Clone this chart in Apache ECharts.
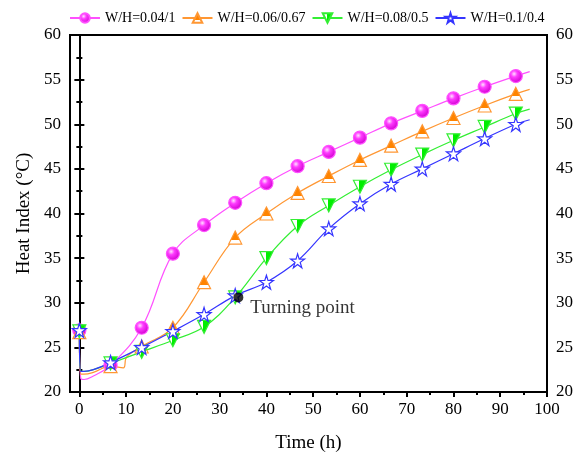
<!DOCTYPE html>
<html>
<head>
<meta charset="utf-8">
<script src="https://cdn.jsdelivr.net/npm/echarts@6/dist/echarts.min.js"></script>
<style>
  * { margin: 0; padding: 0; }
  html, body { background: #fff; }
  #chart { width: 579px; height: 458px; }
</style>
</head>
<body>
<div id="chart"></div>
<script>
// marker times (h)
const markTimes = [0, 6.67, 13.33, 20, 26.67, 33.33, 40, 46.67, 53.33, 60, 66.67, 73.33, 80, 86.67, 93.33];

// values at the markers (°C)
const pinkVals   = [26.9, 23.0, 27.2, 35.5, 38.7, 41.2, 43.4, 45.3, 46.9, 48.5, 50.1, 51.5, 52.9, 54.2, 55.4];
const orangeVals = [26.7, 22.9, 25.1, 27.2, 32.3, 37.3, 40.0, 42.3, 44.2, 46.0, 47.6, 49.2, 50.7, 52.1, 53.4];
const greenVals  = [26.8, 23.2, 24.5, 25.8, 27.3, 30.6, 35.0, 38.6, 40.9, 43.0, 44.9, 46.6, 48.2, 49.7, 51.2];
const blueVals   = [26.9, 23.3, 25.0, 26.8, 28.7, 30.8, 32.3, 34.7, 38.3, 41.1, 43.3, 45.0, 46.7, 48.4, 50.0];

// curve points between markers that carry no symbol
const pinkExtra   = [[0.3, 21.5], [1, 21.4], [3, 21.8], [96.3, 55.9]];
const orangeExtra = [[0.3, 22.0], [1, 22.0], [3, 22.2], [9.4, 22.7], [10.1, 23.9], [96.3, 53.9]];
const greenExtra  = [[0.3, 22.3], [1, 22.3], [3, 22.5], [96.3, 51.7]];
const blueExtra   = [[0.3, 22.3], [1, 22.3], [3, 22.5], [96.3, 50.5]];

const names = ['W/H=0.04/1', 'W/H=0.06/0.67', 'W/H=0.08/0.5', 'W/H=0.1/0.4'];
const turningPoint = [34, 30.6];

const xTicks = [0, 10, 20, 30, 40, 50, 60, 70, 80, 90, 100];
const xMinor = [5, 15, 25, 35, 45, 55, 65, 75, 85, 95];

const FONT = "'Liberation Serif', 'Times New Roman', serif";
const starPath = 'path://M50,2 L61,37 L98,37 L68,59 L79,95 L50,73 L21,95 L32,59 L2,37 L39,37 Z';

function buildData(vals, extra) {
  const pts = markTimes.map((t, i) => ({ value: [t, vals[i]] }));
  extra.forEach(p => pts.push({ value: p, symbol: 'none' }));
  pts.sort((a, b) => a.value[0] - b.value[0]);
  return pts;
}

function lineSeries(name, vals, extra, color, symbol, size, fill) {
  return {
    name: name,
    type: 'line',
    smooth: 0.4,
    symbol: symbol,
    symbolSize: size,
    showAllSymbol: true,
    lineStyle: { color: color, width: 1.2 },
    itemStyle: { color: fill, borderColor: color, borderWidth: 1.2 },
    data: buildData(vals, extra)
  };
}

const chart = echarts.init(document.getElementById('chart'));

const pinkFill = {
  type: 'radial', x: 0.38, y: 0.35, r: 0.65,
  colorStops: [
    { offset: 0, color: '#ffe0ff' },
    { offset: 0.35, color: '#ff3cff' },
    { offset: 1, color: '#d000d0' }
  ]
};
const orangeFill = {
  type: 'linear', x: 0, y: 0, x2: 0, y2: 1,
  colorStops: [
    { offset: 0, color: '#ff8400' },
    { offset: 0.68, color: '#ff8400' },
    { offset: 0.68, color: '#ffffff' },
    { offset: 1, color: '#ffffff' }
  ]
};
const greenFill = {
  type: 'linear', x: 0, y: 0, x2: 1, y2: 0,
  colorStops: [
    { offset: 0, color: '#ffffff' },
    { offset: 0.45, color: '#ffffff' },
    { offset: 0.45, color: '#00ee00' },
    { offset: 1, color: '#00ee00' }
  ]
};

chart.setOption({
  backgroundColor: '#fff',
  animation: false,
  textStyle: { fontFamily: FONT, color: '#000' },
  legend: {
    data: names,
    left: 64,
    top: 6,
    itemWidth: 30,
    itemHeight: 12,
    itemGap: 6,
    textStyle: { fontFamily: FONT, fontSize: 14, color: '#000' }
  },
  grid: {
    left: 70, right: 32, top: 35, bottom: 63,
    show: true, borderColor: '#000', borderWidth: 2
  },
  xAxis: [
    {
      type: 'value',
      min: -2,
      max: 100,
      name: 'Time (h)',
      nameLocation: 'middle',
      nameGap: 42,
      nameTextStyle: { fontFamily: FONT, fontSize: 19, color: '#000' },
      axisLine: { show: true, lineStyle: { color: '#000', width: 2 } },
      axisTick: { show: true, customValues: xTicks, length: 5, lineStyle: { color: '#000', width: 2 } },
      axisLabel: { customValues: xTicks, fontFamily: FONT, fontSize: 17, color: '#000', margin: 9 },
      splitLine: { show: false }
    },
    {
      type: 'value',
      min: -2,
      max: 100,
      position: 'bottom',
      axisLine: { show: false },
      axisTick: { show: true, customValues: xMinor, length: 3, lineStyle: { color: '#000', width: 2 } },
      axisLabel: { show: false },
      splitLine: { show: false }
    }
  ],
  yAxis: [
    {
      type: 'value',
      min: 20,
      max: 60,
      interval: 5,
      position: 'left',
      name: 'Heat Index (°C)',
      nameLocation: 'middle',
      nameGap: 33,
      nameTextStyle: { fontFamily: FONT, fontSize: 19, color: '#000' },
      axisLine: { show: true, lineStyle: { color: '#000', width: 2 } },
      axisTick: { show: true, length: 5, lineStyle: { color: '#000', width: 2 } },
      minorTick: { show: true, splitNumber: 2, length: 3, lineStyle: { color: '#000', width: 2 } },
      axisLabel: { fontFamily: FONT, fontSize: 17, color: '#000', margin: 9 },
      splitLine: { show: false }
    },
    {
      type: 'value',
      min: 20,
      max: 60,
      interval: 5,
      position: 'right',
      axisLine: { show: true, lineStyle: { color: '#000', width: 2 } },
      axisTick: { show: true, length: 5, lineStyle: { color: '#000', width: 2 } },
      minorTick: { show: true, splitNumber: 2, length: 3, lineStyle: { color: '#000', width: 2 } },
      axisLabel: { fontFamily: FONT, fontSize: 17, color: '#000', margin: 9 },
      splitLine: { show: false }
    }
  ],
  series: [
    lineSeries(names[0], pinkVals, pinkExtra, '#ff50ff', 'circle', 13, pinkFill),
    lineSeries(names[1], orangeVals, orangeExtra, '#ff9733', 'triangle', 13, orangeFill),
    lineSeries(names[2], greenVals, greenExtra, '#33ee33', 'path://M0,0 L100,0 L50,90 Z', 13, greenFill),
    lineSeries(names[3], blueVals, blueExtra, '#3535ff', starPath, 14, '#ffffff'),
    {
      name: 'Turning point',
      type: 'scatter',
      symbol: 'circle',
      symbolSize: 10,
      itemStyle: { color: '#000' },
      label: {
        show: true,
        position: 'right',
        offset: [2, 11],
        formatter: 'Turning point',
        fontFamily: FONT,
        fontSize: 19,
        color: '#000'
      },
      z: 5,
      data: [turningPoint]
    }
  ]
});
</script>
</body>
</html>
